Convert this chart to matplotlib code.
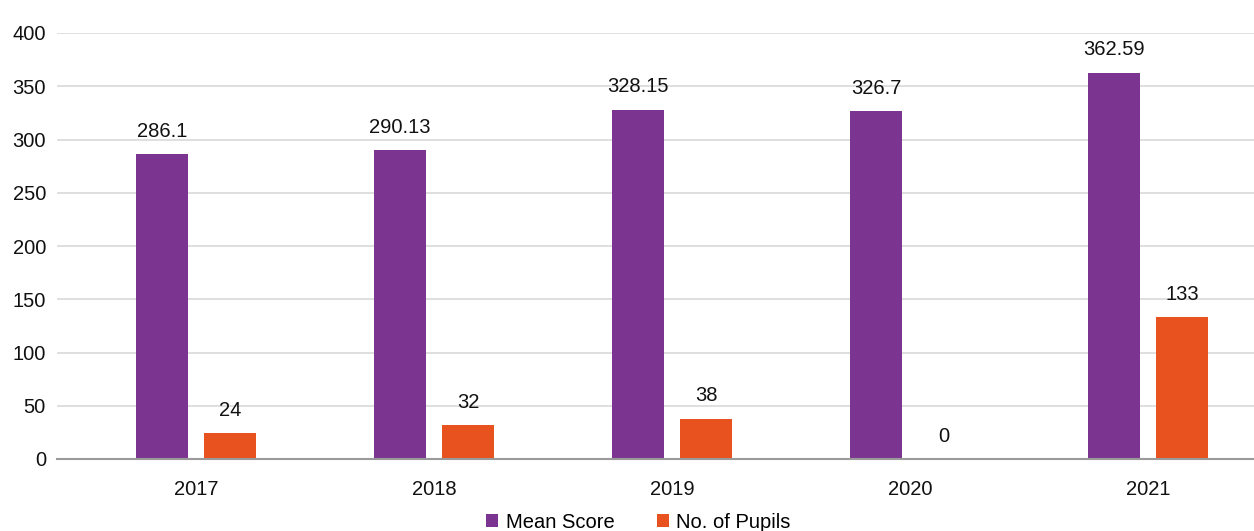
import matplotlib
matplotlib.use("Agg")
import matplotlib.pyplot as plt
import numpy as np

years = ["2017", "2018", "2019", "2020", "2021"]
mean_score = [286.1, 290.13, 328.15, 326.7, 362.59]
pupils = [24, 32, 38, 0, 133]
score_labels = ["286.1", "290.13", "328.15", "326.7", "362.59"]
pupil_labels = ["24", "32", "38", "0", "133"]

PURPLE = "#7B3590"
ORANGE = "#E8521E"
FS = 14.5

plt.rcParams["font.family"] = ["Liberation Sans", "DejaVu Sans"]

fig = plt.figure(figsize=(12.54, 5.31), dpi=100)
ax = fig.add_axes([57 / 1254, 72 / 531, (1254 - 57) / 1254, 426 / 531])

x = np.arange(len(years))
w = 0.218
off = 0.143
b1 = ax.bar(x - off, mean_score, w, color=PURPLE, label="Mean Score", zorder=3)
b2 = ax.bar(x + off, pupils, w, color=ORANGE, label="No. of Pupils", zorder=3)

# value labels above each bar
for bars, labels in [(b1, score_labels), (b2, pupil_labels)]:
    for rect, lab in zip(bars, labels):
        ax.annotate(lab, (rect.get_x() + rect.get_width() / 2, rect.get_height()),
                    xytext=(0, 12.5), textcoords="offset points", ha="center",
                    va="baseline", fontsize=FS, color="#111111")

ax.set_xlim(-0.584, 4.445)
ax.set_ylim(0, 400)
ax.set_yticks(range(0, 401, 50))
ax.set_xticks(x)
ax.set_xticklabels(years)
ax.tick_params(axis="both", length=0, labelsize=FS, colors="#111111")
ax.tick_params(axis="y", pad=8)
ax.tick_params(axis="x", pad=15)
ax.grid(axis="y", color="#d9d9d9", linewidth=1.2, zorder=0)
for side in ["top", "right", "left"]:
    ax.spines[side].set_visible(False)
ax.spines["bottom"].set_color("#9a9a9a")
ax.spines["bottom"].set_linewidth(1.5)
ax.spines["bottom"].set_zorder(4)

fig.legend(handles=[b1, b2], loc="center", bbox_to_anchor=(0.509, 9 / 531),
           bbox_transform=fig.transFigure, ncol=2, frameon=False, fontsize=FS,
           handlelength=0.6, handleheight=0.6, handletextpad=0.38,
           columnspacing=2.1, borderpad=0)

fig.savefig("out.png", dpi=100)
